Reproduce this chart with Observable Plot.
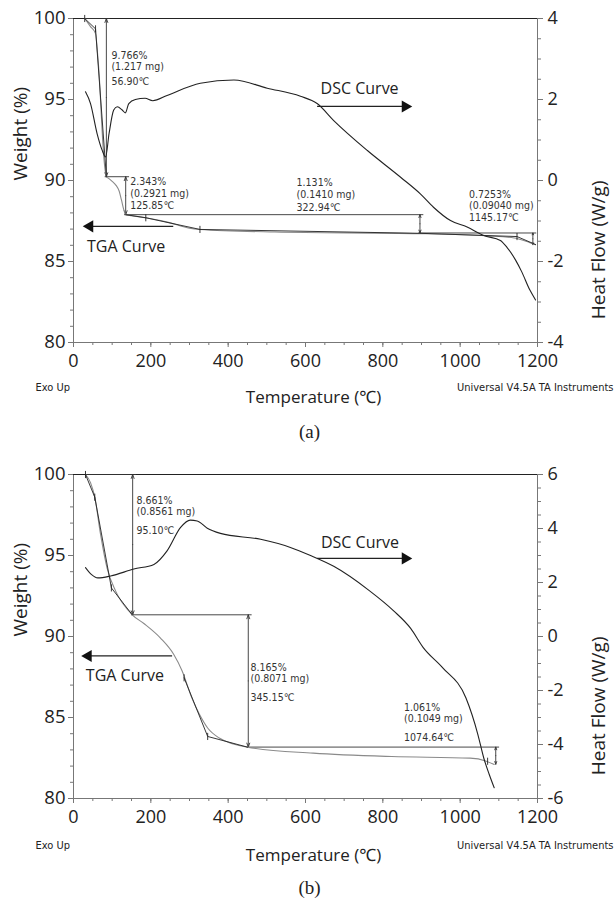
<!DOCTYPE html>
<html><head><meta charset="utf-8">
<script src="https://cdn.jsdelivr.net/npm/d3@7"></script>
<script src="https://cdn.jsdelivr.net/npm/@observablehq/plot@0.6"></script>
<style>
body{margin:0;background:#fff;}
#chart svg{display:block;}
</style></head><body><div id="chart"></div>
<script>
// ---------- Panel (a) data ----------
const tempA_TGA   = [29,44,57,62,67,72,77,82,85,90,100,110,118,124,130,135,150,187,248,300,327,521,896,1069,1140,1170,1195];
const weightA_TGA = [100,99.5,99.07,97.9,96.3,94.0,91.9,90.6,90.23,90.15,89.95,89.7,89.35,88.8,88.2,87.89,87.83,87.7,87.4,87.05,86.98,86.82,86.72,86.58,86.45,86.25,86.03];
const tempA_DSC   = [31,44,61,74,83,92,104,113,126,134,143,160,185,205,242,328,415,501,587,630,673,760,846,897,931,975,1018,1061,1104,1121,1143,1159,1180,1195];
const heatA_DSC   = [2.19,1.9,1.16,0.75,0.58,1.16,1.74,1.82,1.74,1.67,1.9,2.0,2.03,1.97,2.1,2.4,2.48,2.28,2.08,1.9,1.48,0.74,0.08,-0.33,-0.66,-0.99,-1.15,-1.36,-1.48,-1.65,-1.96,-2.25,-2.7,-2.95];
const tangentA_T  = [[29,57,85],[135,187,327,896,1147,1195]];
const tangentA_W  = [[100,99.36,90.23],[87.89,87.7,86.98,86.74,86.54,86.05]];
const markA_T     = [29,57,187,327,1147];
const markA_W     = [100,99.36,87.7,86.98,86.54];
const stepLevelsA = [100,90.234,87.891,86.760,86.035];
const stepTempsA  = [85,135,896,1188];
const stepTextA   = [["9.766%","(1.217 mg)","56.90℃"],["2.343%","(0.2921 mg)","125.85℃"],["1.131%","(0.1410 mg)","322.94℃"],["0.7253%","(0.09040 mg)","1145.17℃"]];
const heatTicksA  = [-4,-2,0,2,4];

// ---------- Panel (b) data ----------
const tempB_TGA   = [31,44,55,70,87,109,152,182,225,259,281,306,326,347,377,450,620,823,1026,1066,1088];
const weightB_TGA = [100,99.5,98.6,96.3,94.2,92.8,91.34,90.8,89.9,88.9,87.87,86.21,85.18,84.35,83.73,83.17,82.8,82.59,82.49,82.32,82.1];
const tempB_DSC   = [31,46,63,96,156,208,242,277,302,320,346,380,484,561,613,673,765,828,872,904,955,1015,1046,1061,1075,1088];
const heatB_DSC   = [2.55,2.3,2.17,2.24,2.5,2.67,3.17,4.04,4.31,4.28,4.01,3.82,3.6,3.3,3.0,2.6,1.7,0.95,0.3,-0.4,-1.16,-2.28,-3.64,-4.5,-5.1,-5.6];
const tangentB_T  = [[31,55,98,152],[286,347,450]];
const tangentB_W  = [[100,98.6,93.0,91.34],[87.45,83.83,83.17]];
const markB_T     = [31,55,98,286,347,1071];
const markB_W     = [100,98.6,93.0,87.45,83.83,82.3];
const stepLevelsB = [100,91.339,83.174,82.113];
const stepTempsB  = [153,452,1092];
const stepTextB   = [["8.661%","(0.8561 mg)","95.10℃"],["8.165%","(0.8071 mg)","345.15℃"],["1.061%","(0.1049 mg)","1074.64℃"]];
const heatTicksB  = [-6,-4,-2,0,2,4,6];

const tempTicks   = [0,200,400,600,800,1000,1200];
const weightTicks = [80,85,90,95,100];

// ---------- layout (positions of annotations, in data units) ----------
const layoutA = {
  mt: 18, hfMin: -4, hfMax: 4,
  textPos: [[98,[97.7,97.0,96.13]],[147,[89.92,89.17,88.47]],[577,[89.86,89.13,88.3]],[1023,[89.13,88.45,87.69]]],
  dsc: {lx: 639, ly: 95.65, ay: 94.57, a1: 630, a2: 858},
  tga: {lx: 35, ly: 85.9, ay: 87.17, a1: 258, a2: 42},
  foot: {exo: 48, temp: 60, tag: 95}, tag: "(a)"
};
const layoutB = {
  mt: 21, hfMin: -6, hfMax: 6,
  textPos: [[163,[98.39,97.72,96.52]],[458,[88.07,87.39,86.25]],[855,[85.59,84.93,83.77]]],
  dsc: {lx: 640, ly: 95.77, ay: 94.82, a1: 630, a2: 858},
  tga: {lx: 32, ly: 87.56, ay: 88.8, a1: 255, a2: 38},
  foot: {exo: 50, temp: 62, tag: 95}, tag: "(b)"
};

const NARROW = "'Liberation Sans Narrow','Arial Narrow','DejaVu Sans Condensed',sans-serif";
const SANS = "'Open Sans','Noto Sans',sans-serif";

function panel(d, L) {
  const H = 453, INNER = 324;
  const toW = hf => 80 + (hf - L.hfMin) * 20 / (L.hfMax - L.hfMin);
  const fromW = w => L.hfMin + (w - 80) * (L.hfMax - L.hfMin) / 20;
  const tga = d.tgaT.map((t, i) => ({t, w: d.tgaW[i]}));
  const dsc = d.dscT.map((t, i) => ({t, w: toW(d.dscH[i])}));
  const tang = d.tanT.flatMap((seg, s) => seg.map((t, i) => ({t, w: d.tanW[s][i], s})));
  const marks = d.markT.map((t, i) => ({t, w: d.markW[i]}));
  const hlines = d.stepT.map((t, i) => ({
    y: d.levels[i],
    x1: i === 0 ? d.tgaT[0] : d.stepT[i - 1] - 3,
    x2: Math.min(1200, t + 10)
  }));
  const arrows = d.stepT.map((t, i) => ({t, top: d.levels[i], bot: d.levels[i + 1], mid: (d.levels[i] + d.levels[i + 1]) / 2}));
  const labels = d.text.flatMap((lines, i) => lines.map((s, j) => ({s, t: L.textPos[i][0], w: L.textPos[i][1][j]})));
  const minorHF = d3.range(L.hfMin, L.hfMax + 0.001, 0.5).map(toW);

  return Plot.plot({
    width: 615, height: H,
    marginLeft: 73, marginRight: 78, marginTop: L.mt, marginBottom: H - L.mt - INNER,
    x: {domain: [0, 1200], label: null},
    y: {domain: [80, 100], label: null},
    style: {fontFamily: SANS, color: "#222", background: "#fff", overflow: "visible"},
    marks: [
      Plot.frame({stroke: "#777", strokeWidth: 1}),
      Plot.ruleY([100], {stroke: "#222", strokeWidth: 1}),
      // minor ticks
      Plot.axisX({ticks: d3.range(0, 1201, 50), tickSize: 3, tickFormat: () => "", stroke: "#777", label: null}),
      Plot.axisY({ticks: d3.range(80, 100.1, 1), tickSize: 3, tickFormat: () => "", stroke: "#777", label: null}),
      Plot.axisY({anchor: "right", ticks: minorHF, tickSize: 3, tickFormat: () => "", stroke: "#777", label: null}),
      // major ticks
      Plot.axisX({ticks: tempTicks, tickSize: 5, tickPadding: 7, fontSize: 18, stroke: "#777", fill: "#222", tickFormat: d => String(d), label: null}),
      Plot.axisY({ticks: weightTicks, tickSize: 5, tickPadding: 3, fontSize: 18.5, stroke: "#777", fill: "#222", tickFormat: d => String(d), label: null}),
      Plot.axisY({anchor: "right", ticks: d.heatTicks.map(toW), tickSize: 5, tickPadding: 5, fontSize: 18, stroke: "#777", fill: "#222",
                  tickFormat: w => String(Math.round(fromW(w))), label: null}),
      // axis titles
      Plot.text(["Weight (%)"], {frameAnchor: "left", dx: -53, rotate: -90, fontSize: 19, fill: "#222"}),
      Plot.text(["Heat Flow (W/g)"], {frameAnchor: "right", dx: 61, rotate: -90, fontSize: 19, fill: "#222"}),
      Plot.text(["Temperature (℃)"], {frameAnchor: "bottom", dx: 8, dy: L.foot.temp, fontSize: 17, fill: "#222"}),
      Plot.text(["Exo Up"], {frameAnchor: "bottom-left", dx: -38, dy: L.foot.exo, textAnchor: "start", fontSize: 11, fontFamily: NARROW, fill: "#222"}),
      Plot.text(["Universal V4.5A TA Instruments"], {frameAnchor: "bottom-right", dx: 76, dy: L.foot.exo, textAnchor: "end", fontSize: 11, fontFamily: NARROW, fill: "#222"}),
      Plot.text([L.tag], {frameAnchor: "bottom", dx: 4, dy: L.foot.tag, fontSize: 19, fontFamily: "'Liberation Serif',serif", fill: "#222"}),
      // step annotation lines and double arrows
      Plot.ruleY(hlines, {y: "y", x1: "x1", x2: "x2", stroke: "#333", strokeWidth: 0.9}),
      Plot.arrow(arrows, {x1: "t", x2: "t", y1: "mid", y2: "top", stroke: "#333", strokeWidth: 0.9, headLength: 7, headAngle: 40}),
      Plot.arrow(arrows, {x1: "t", x2: "t", y1: "mid", y2: "bot", stroke: "#333", strokeWidth: 0.9, headLength: 7, headAngle: 40}),
      // curves
      Plot.line(tga, {x: "t", y: "w", stroke: "#8a8a8a", strokeWidth: 1.1, curve: "monotone-x"}),
      Plot.line(tang, {x: "t", y: "w", z: "s", stroke: "#222", strokeWidth: 0.9}),
      Plot.link(marks, {x1: "t", x2: "t", y1: v => v.w + 0.22, y2: v => v.w - 0.22, stroke: "#222", strokeWidth: 0.9}),
      Plot.line(dsc, {x: "t", y: "w", stroke: "#222", strokeWidth: 1.1, curve: "monotone-x"}),
      // step texts
      Plot.text(labels, {x: "t", y: "w", text: "s", textAnchor: "start", fontSize: 10.5, fontFamily: NARROW, fill: "#333"}),
      // curve labels and arrows
      Plot.text(["DSC Curve"], {x: L.dsc.lx, y: L.dsc.ly, textAnchor: "start", fontSize: 16, fill: "#222"}),
      Plot.link([L.dsc], {x1: "a1", x2: "a2", y1: "ay", y2: "ay", stroke: "#222", strokeWidth: 1.2}),
      Plot.dot([L.dsc], {x: "a2", y: "ay", symbol: "triangle", rotate: 90, r: 4.5, fill: "#111", stroke: "none"}),
      Plot.text(["TGA Curve"], {x: L.tga.lx, y: L.tga.ly, textAnchor: "start", fontSize: 16, fill: "#222"}),
      Plot.link([L.tga], {x1: "a1", x2: "a2", y1: "ay", y2: "ay", stroke: "#222", strokeWidth: 1.2}),
      Plot.dot([L.tga], {x: "a2", y: "ay", symbol: "triangle", rotate: -90, r: 4.5, fill: "#111", stroke: "none"})
    ]
  });
}

const chart = document.getElementById("chart");
chart.appendChild(panel({
  tgaT: tempA_TGA, tgaW: weightA_TGA, dscT: tempA_DSC, dscH: heatA_DSC,
  tanT: tangentA_T, tanW: tangentA_W, markT: markA_T, markW: markA_W,
  levels: stepLevelsA, stepT: stepTempsA, text: stepTextA, heatTicks: heatTicksA
}, layoutA));
chart.appendChild(panel({
  tgaT: tempB_TGA, tgaW: weightB_TGA, dscT: tempB_DSC, dscH: heatB_DSC,
  tanT: tangentB_T, tanW: tangentB_W, markT: markB_T, markW: markB_W,
  levels: stepLevelsB, stepT: stepTempsB, text: stepTextB, heatTicks: heatTicksB
}, layoutB));
</script>
</body></html>
